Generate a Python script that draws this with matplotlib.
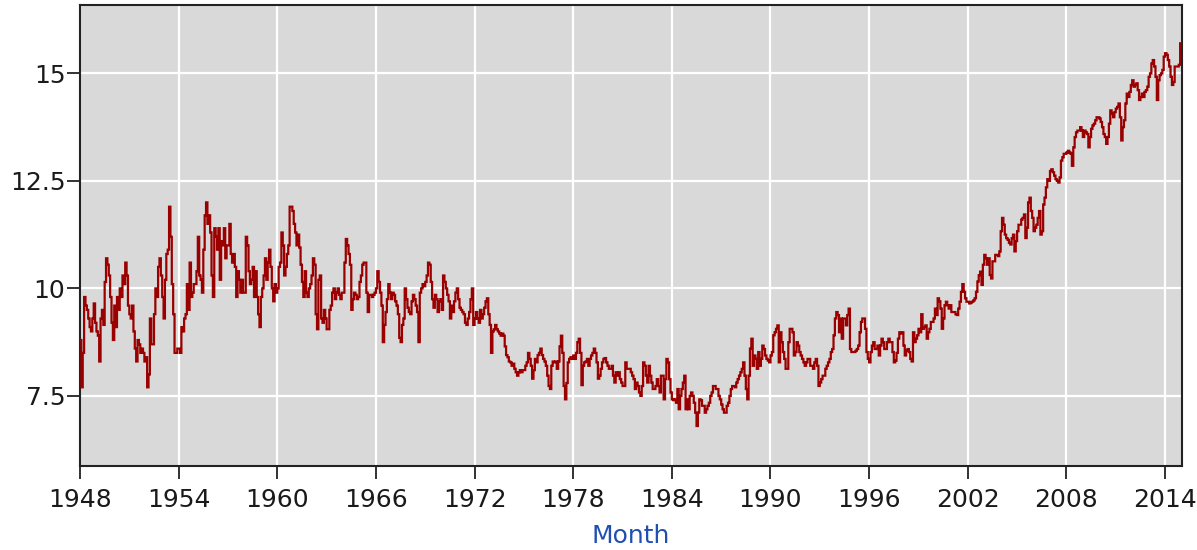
import matplotlib

matplotlib.use("Agg")

import numpy as np
import matplotlib.pyplot as plt

# monthly values, Jan 1948 .. Dec 2014, one row per year
values_1948_1959 = [
    8.8, 7.7, 8.5, 9.8, 9.6, 9.5, 9.3, 9.1, 9.0, 9.3, 9.65, 9.2,
    9.0, 8.9, 8.3, 9.3, 9.5, 9.15, 10.15, 10.7, 10.55, 10.3, 9.8, 9.2,
    8.8, 9.6, 9.1, 9.8, 9.5, 10.0, 9.8, 10.3, 10.1, 10.6, 10.3, 9.6,
    9.4, 9.3, 9.6, 9.0, 8.6, 8.3, 8.8, 8.7, 8.5, 8.6, 8.5, 8.3,
    8.4, 7.7, 8.0, 9.3, 8.7, 8.7, 9.4, 10.0, 9.8, 10.5, 10.7, 10.3,
    9.8, 9.3, 10.2, 10.8, 10.9, 11.9, 11.2, 10.1, 9.4, 8.5, 8.5, 8.6,
    8.6, 8.5, 9.1, 9.0, 9.3, 9.4, 10.1, 9.5, 10.6, 9.8, 9.9, 10.1,
    10.1, 10.4, 11.2, 10.3, 10.2, 9.9, 10.9, 11.7, 12.0, 11.5, 11.7, 11.3,
    10.3, 9.8, 11.4, 11.2, 10.9, 11.4, 10.2, 11.1, 11.0, 11.4, 10.7, 11.0,
    11.0, 11.5, 10.8, 10.6, 10.8, 10.5, 9.8, 10.4, 10.2, 9.9, 10.2, 9.9,
    9.9, 11.2, 11.0, 10.4, 10.1, 10.2, 10.5, 9.8, 10.4, 9.8, 9.4, 9.1,
    9.8, 10.0, 10.3, 10.7, 10.2, 10.6, 10.9, 10.5, 10.0, 9.7, 10.1, 9.9,
]
values_1960_1971 = [
    10.0, 10.5, 10.6, 11.3, 11.0, 10.3, 10.5, 10.8, 11.0, 11.9, 11.9, 11.8,
    11.5, 11.3, 11.0, 11.25, 10.95, 10.55, 10.15, 9.8, 10.4, 9.9, 9.8, 10.0,
    10.1, 10.3, 10.7, 10.55, 9.4, 9.05, 10.2, 10.3, 9.3, 9.2, 9.5, 9.3,
    9.05, 9.05, 9.5, 9.6, 9.9, 10.0, 9.75, 9.9, 10.0, 9.85, 9.75, 9.9,
    9.9, 10.6, 11.15, 11.0, 10.8, 10.55, 9.5, 9.75, 9.9, 9.85, 9.75, 9.8,
    10.15, 10.3, 10.55, 10.6, 10.6, 9.9, 9.45, 9.85, 9.85, 9.8, 9.85, 9.9,
    10.0, 10.4, 10.15, 9.9, 9.6, 8.75, 9.15, 9.45, 9.75, 10.1, 9.9, 9.75,
    9.9, 9.85, 9.7, 9.6, 9.4, 8.85, 8.75, 9.15, 9.3, 10.0, 9.75, 9.55,
    9.45, 9.4, 9.7, 9.85, 9.75, 9.6, 9.45, 8.75, 9.9, 10.0, 10.1, 10.05,
    10.15, 10.3, 10.6, 10.55, 10.15, 9.75, 9.55, 9.85, 9.75, 9.45, 9.7, 9.75,
    9.5, 10.3, 10.15, 10.0, 9.85, 9.7, 9.3, 9.6, 9.45, 9.7, 9.9, 10.0,
    9.75, 9.55, 9.5, 9.45, 9.4, 9.2, 9.15, 9.3, 9.45, 9.75, 10.0, 9.15,
]
values_1972_1983 = [
    9.3, 9.45, 9.3, 9.2, 9.5, 9.3, 9.4, 9.55, 9.7, 9.77, 9.4, 9.15,
    8.5, 9.0, 9.05, 9.15, 9.05, 9.0, 8.95, 8.9, 8.95, 8.9, 8.65, 8.45,
    8.4, 8.3, 8.28, 8.2, 8.25, 8.13, 8.05, 7.97, 8.05, 8.1, 8.05, 8.1,
    8.1, 8.2, 8.28, 8.5, 8.36, 8.2, 7.9, 8.1, 8.36, 8.28, 8.45, 8.5,
    8.6, 8.45, 8.36, 8.3, 8.2, 7.97, 7.73, 7.66, 8.2, 8.3, 8.28, 8.3,
    8.13, 8.3, 8.65, 8.9, 8.5, 7.73, 7.42, 7.8, 8.28, 8.36, 8.4, 8.36,
    8.44, 8.36, 8.5, 8.75, 8.83, 8.5, 7.75, 8.2, 8.28, 8.3, 8.36, 8.2,
    8.36, 8.44, 8.5, 8.6, 8.5, 8.28, 7.9, 7.97, 8.13, 8.28, 8.36, 8.38,
    8.28, 8.2, 8.13, 8.13, 8.2, 7.97, 7.81, 8.05, 7.97, 8.05, 7.89, 7.81,
    7.73, 7.73, 8.28, 8.13, 8.13, 8.13, 8.05, 7.97, 7.89, 7.66, 7.81, 7.73,
    7.58, 7.5, 7.73, 8.28, 8.2, 7.97, 7.81, 8.2, 7.97, 7.81, 7.66, 7.66,
    7.73, 7.89, 7.73, 7.58, 7.97, 7.97, 7.42, 7.89, 8.36, 8.28, 7.89, 7.58,
]
values_1984_1995 = [
    7.42, 7.4, 7.42, 7.34, 7.66, 7.19, 7.5, 7.66, 7.81, 7.97, 7.19, 7.42,
    7.19, 7.5, 7.58, 7.5, 7.34, 7.11, 6.8, 7.11, 7.42, 7.4, 7.27, 7.27,
    7.11, 7.19, 7.27, 7.34, 7.5, 7.58, 7.73, 7.73, 7.66, 7.66, 7.5, 7.42,
    7.3, 7.19, 7.11, 7.11, 7.27, 7.34, 7.5, 7.66, 7.73, 7.73, 7.7, 7.81,
    7.89, 7.97, 8.05, 8.13, 8.28, 7.97, 7.66, 7.42, 7.97, 8.6, 8.83, 8.2,
    8.44, 8.36, 8.13, 8.52, 8.2, 8.36, 8.67, 8.59, 8.44, 8.36, 8.32, 8.28,
    8.44, 8.52, 8.91, 8.98, 9.06, 9.14, 8.28, 8.98, 8.75, 8.52, 8.36, 8.13,
    8.13, 8.75, 9.06, 9.06, 8.98, 8.44, 8.52, 8.75, 8.67, 8.52, 8.44, 8.36,
    8.28, 8.2, 8.28, 8.36, 8.36, 8.2, 8.2, 8.13, 8.28, 8.36, 8.2, 7.73,
    7.81, 7.89, 7.97, 7.97, 8.13, 8.2, 8.28, 8.36, 8.52, 8.59, 8.91, 9.3,
    9.45, 9.38, 8.98, 9.3, 8.83, 9.3, 9.3, 9.14, 9.38, 9.53, 8.59, 8.52,
    8.52, 8.52, 8.55, 8.59, 8.67, 8.98, 9.22, 9.3, 9.3, 9.06, 8.52, 8.36,
]
values_1996_2005 = [
    8.28, 8.52, 8.67, 8.75, 8.59, 8.59, 8.67, 8.44, 8.67, 8.83, 8.75, 8.59,
    8.59, 8.75, 8.83, 8.75, 8.75, 8.52, 8.28, 8.32, 8.5, 8.83, 8.98, 8.95,
    8.98, 8.67, 8.44, 8.55, 8.59, 8.52, 8.36, 8.3, 8.98, 8.75, 8.83, 8.91,
    9.06, 8.98, 9.4, 9.06, 9.1, 9.14, 8.83, 8.98, 9.06, 9.22, 9.22, 9.3,
    9.53, 9.38, 9.77, 9.7, 9.53, 9.06, 9.3, 9.61, 9.69, 9.61, 9.53, 9.61,
    9.45, 9.45, 9.45, 9.4, 9.38, 9.53, 9.69, 9.92, 10.1, 9.92, 9.77, 9.69,
    9.69, 9.65, 9.67, 9.69, 9.72, 9.77, 9.92, 10.16, 10.31, 10.39, 10.08, 10.55,
    10.78, 10.7, 10.55, 10.7, 10.31, 10.23, 10.63, 10.63, 10.78, 10.78, 10.75, 10.86,
    11.33, 11.64, 11.48, 11.25, 11.17, 11.13, 11.06, 11.02, 11.17, 11.25, 10.86, 11.1,
    11.33, 11.48, 11.48, 11.6, 11.64, 11.72, 11.17, 11.41, 12.0, 12.11, 11.8, 11.64,
]
values_2006_2014 = [
    11.33, 11.41, 11.48, 11.64, 11.8, 11.25, 11.33, 11.95, 12.11, 12.35, 12.54, 12.5,
    12.73, 12.77, 12.7, 12.62, 12.54, 12.5, 12.46, 12.58, 12.97, 13.05, 13.13, 13.13,
    13.16, 13.2, 13.16, 13.13, 12.85, 13.28, 13.52, 13.63, 13.67, 13.67, 13.75, 13.67,
    13.52, 13.67, 13.63, 13.59, 13.28, 13.52, 13.71, 13.79, 13.83, 13.91, 13.98, 13.98,
    13.95, 13.87, 13.75, 13.59, 13.52, 13.36, 13.52, 13.83, 14.14, 14.06, 13.98, 14.1,
    14.18, 14.22, 14.3, 13.98, 13.44, 13.75, 13.91, 14.3, 14.53, 14.45, 14.57, 14.73,
    14.84, 14.69, 14.73, 14.77, 14.61, 14.38, 14.45, 14.53, 14.45, 14.57, 14.61, 14.69,
    14.92, 15.0, 15.23, 15.31, 15.16, 14.92, 14.38, 14.84, 14.96, 15.0, 15.08, 15.39,
    15.47, 15.43, 15.31, 15.16, 14.92, 14.73, 14.8, 15.16, 15.16, 15.16, 15.2, 15.7,
]

first_year = 1948
x_ticks = list(range(1948, 2015, 6))
y_ticks = [7.5, 10, 12.5, 15]
y_tick_labels = ["7.5", "10", "12.5", "15"]
x_label = "Month"

values = np.array(values_1948_1959 + values_1960_1971 + values_1972_1983
                  + values_1984_1995 + values_1996_2005 + values_2006_2014)
edges = first_year + np.arange(len(values) + 1) / 12.0

plt.rcParams["font.family"] = "DejaVu Sans"

fig = plt.figure(figsize=(11.97, 5.5), dpi=100)
ax = fig.add_axes([80 / 1197, 1 - 466 / 550, 1102 / 1197, 461 / 550])
ax.set_facecolor("#d9d9d9")

ax.stairs(values, edges, baseline=None, color="#9a0000", linewidth=1.6, zorder=3)

ax.set_xlim(1948.0, 2015.03)
ax.set_ylim(5.87, 16.59)
ax.set_xticks(x_ticks)
ax.set_yticks(y_ticks)
ax.set_yticklabels(y_tick_labels)
ax.grid(True, color="white", linewidth=1.6, zorder=1)
ax.set_axisbelow(True)

for side in ax.spines.values():
    side.set_color("#222222")
    side.set_linewidth(1.5)

ax.tick_params(axis="both", direction="out", length=9.5, width=1.3,
               color="#222222", labelsize=18, labelcolor="#1a1a1a")
ax.tick_params(axis="x", pad=6)
ax.tick_params(axis="y", pad=1)

ax.set_xlabel(x_label, color="#1f4fb0", fontsize=18, labelpad=9)

fig.savefig("out.png", dpi=100)
